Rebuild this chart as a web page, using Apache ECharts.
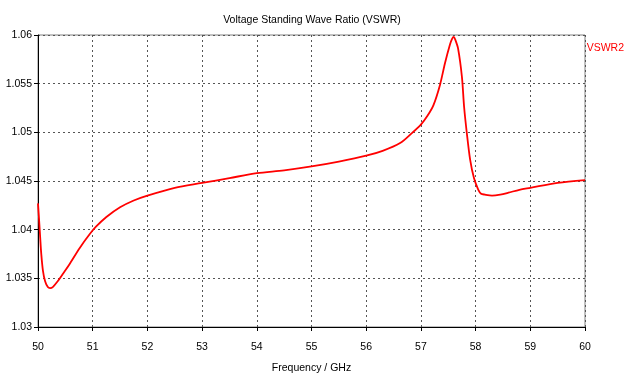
<!DOCTYPE html>
<html>
<head>
<meta charset="utf-8">
<script src="https://cdn.jsdelivr.net/npm/echarts@6/dist/echarts.min.js"></script>
<style>html,body{margin:0;padding:0;background:#fff}#c{width:624px;height:374px}</style>
</head>
<body>
<div id="c"></div>
<script>
var freq = [50.00,50.02,50.04,50.06,50.09,50.13,50.18,50.22,50.27,50.36,50.46,50.57,50.76,50.94,51.06,51.25,51.5,51.75,52.0,52.5,53.0,53.5,54.0,54.5,55.0,55.5,56.0,56.3,56.62,56.83,57.0,57.12,57.23,57.35,57.44,57.53,57.57,57.60,57.63,57.68,57.75,57.79,57.84,57.90,57.97,58.05,58.10,58.17,58.30,58.45,58.6,58.8,59.0,59.5,60.0];
var vswr = [1.0427,1.0410,1.0392,1.0375,1.0358,1.0347,1.0341,1.0340,1.0341,1.0347,1.0355,1.0364,1.0381,1.0395,1.0403,1.0413,1.0423,1.0430,1.0435,1.0443,1.0448,1.0453,1.0458,1.0461,1.0465,1.0470,1.0476,1.0481,1.0489,1.0499,1.0508,1.0517,1.0528,1.0549,1.0571,1.0590,1.0596,1.0598,1.0595,1.0586,1.0557,1.0526,1.0499,1.0472,1.0453,1.0441,1.0437,1.0436,1.0435,1.0436,1.0438,1.0441,1.0443,1.0448,1.0451];
var seriesName = 'VSWR2';
var titleText = 'Voltage Standing Wave Ratio (VSWR)';
var xName = 'Frequency / GHz';

var FONT = '"Liberation Sans", sans-serif';
var FS = 10.5;
var data = freq.map(function(f, i){ return [f, vswr[i]]; });
var chart = echarts.init(document.getElementById('c'), null, {renderer: 'canvas'});
chart.setOption({
  animation: false,
  backgroundColor: '#fff',
  textStyle: {fontFamily: FONT},
  title: {text: titleText, left: 'center', top: 10, textStyle: {fontSize: FS, fontWeight: 'normal', color: '#000', fontFamily: FONT}},
  legend: {data: [seriesName], right: 0, top: 43, padding: 0, itemWidth: 0, itemHeight: 0, itemGap: 0, textStyle: {color: '#ff0000', fontSize: FS, fontFamily: FONT}, selectedMode: false},
  grid: {left: 38, right: 39, top: 35, bottom: 47, show: true, borderColor: '#808080', borderWidth: 1, containLabel: false, outerBoundsMode: 'none'},
  xAxis: {
    type: 'value', min: 50, max: 60, interval: 1,
    name: xName, nameLocation: 'middle', nameGap: 36,
    nameTextStyle: {fontSize: FS, color: '#000', fontFamily: FONT},
    axisLine: {show: true, lineStyle: {color: '#000', width: 1}},
    axisTick: {show: true, length: 4, lineStyle: {color: '#000'}},
    axisLabel: {fontSize: FS, color: '#000', margin: 15, fontFamily: FONT},
    splitLine: {show: true, lineStyle: {color: '#555', type: [2, 3], width: 1}}
  },
  yAxis: {
    type: 'value', min: 1.03, max: 1.06, interval: 0.005,
    axisLine: {show: true, lineStyle: {color: '#000', width: 1}},
    axisTick: {show: true, length: 4, lineStyle: {color: '#000'}},
    axisLabel: {fontSize: FS, color: '#000', margin: 6, fontFamily: FONT, formatter: function(v){ return String(parseFloat(v.toFixed(4))); }},
    splitLine: {show: true, lineStyle: {color: '#555', type: [2, 3], width: 1}}
  },
  series: [{
    name: seriesName, type: 'line', data: data, smooth: 0.3, showSymbol: false,
    lineStyle: {color: '#ff0000', width: 1.8}, itemStyle: {color: '#ff0000'}
  }]
});
</script>
</body>
</html>
